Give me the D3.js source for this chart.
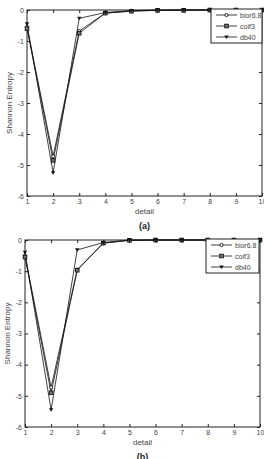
<!DOCTYPE html>
<html>
<head>
<meta charset="utf-8">
<script src="https://cdn.jsdelivr.net/npm/d3@7"></script>
<style>
  body { margin: 0; background: #fff; }
  svg { display: block; font-family: "Liberation Sans", Arial, sans-serif; }
</style>
</head>
<body>
<div id="vis"></div>
<script>
// x values (detail level)
const details = [1, 2, 3, 4, 5, 6, 7, 8, 9, 10];
const yTicks = [0, -1, -2, -3, -4, -5, -6];
const seriesNames = ["bior6.8", "coif3", "db40"];

// panel (a)
const biorA = [-0.55, -4.72, -0.68, -0.1, -0.03, -0.01, 0, 0, 0, 0];
const coifA = [-0.6, -4.85, -0.75, -0.1, -0.04, -0.01, -0.01, 0, 0, 0];
const dbA   = [-0.45, -5.25, -0.27, -0.08, -0.02, 0, 0, 0, 0, 0];

// panel (b)
const biorB = [-0.5, -4.73, -0.95, -0.1, -0.01, 0, 0, 0, 0, 0];
const coifB = [-0.55, -4.9, -0.97, -0.1, -0.01, 0, 0, 0, 0, 0];
const dbB   = [-0.4, -5.45, -0.32, -0.08, 0, 0, 0, 0, 0, 0];

const W = 264, H = 459;
const svg = d3.select("#vis").append("svg")
    .attr("width", W)
    .attr("height", H)
    .attr("viewBox", [0, 0, W, H].join(" "));

const panels = [
    { label: "(a)", left: 27, right: 262, top: 10, bottom: 196, series: [biorA, coifA, dbA],
      legend: { x: 211, y: 9, w: 51, h: 34 } },
    { label: "(b)", left: 25, right: 260, top: 240, bottom: 427, series: [biorB, coifB, dbB],
      legend: { x: 206, y: 239, w: 53, h: 34 } }
];

const textColor = "#444";
const markers = ["circle", "square", "triangle"];

function drawMarker(g, kind, x, y) {
    if (kind === "circle") {
        g.append("circle").attr("cx", x).attr("cy", y).attr("r", 1.6)
            .attr("fill", "#fff").attr("stroke", "#111").attr("stroke-width", 0.9);
    } else if (kind === "square") {
        g.append("rect").attr("x", x - 1.8).attr("y", y - 1.8).attr("width", 3.6).attr("height", 3.6)
            .attr("fill", "#777").attr("stroke", "#111").attr("stroke-width", 0.9);
    } else {
        g.append("path").attr("d", `M${x - 2.2},${y - 1.6}L${x + 2.2},${y - 1.6}L${x},${y + 2}Z`)
            .attr("fill", "#111");
    }
}

panels.forEach(p => {
    const x = d3.scaleLinear().domain([1, 10]).range([p.left, p.right]);
    const y = d3.scaleLinear().domain([-6, 0]).range([p.bottom, p.top]);
    const g = svg.append("g");

    // frame
    g.append("rect")
        .attr("x", p.left).attr("y", p.top)
        .attr("width", p.right - p.left).attr("height", p.bottom - p.top)
        .attr("fill", "none").attr("stroke", "#222").attr("stroke-width", 1);

    // axes with inner ticks
    const xAxis = g.append("g")
        .attr("transform", `translate(0,${p.bottom})`)
        .call(d3.axisBottom(x).tickValues(details).tickSize(-3).tickPadding(3).tickFormat(d3.format("d")));
    const yAxis = g.append("g")
        .attr("transform", `translate(${p.left},0)`)
        .call(d3.axisLeft(y).tickValues(yTicks).tickSize(-3).tickPadding(3).tickFormat(d => d));
    g.append("g")
        .attr("transform", `translate(0,${p.top})`)
        .call(d3.axisTop(x).tickValues(details).tickSize(-3).tickFormat(""));
    g.append("g")
        .attr("transform", `translate(${p.right},0)`)
        .call(d3.axisRight(y).tickValues(yTicks).tickSize(-3).tickFormat(""));
    g.selectAll(".domain").remove();
    g.selectAll(".tick line").attr("stroke", "#222");
    g.selectAll(".tick text").attr("fill", textColor).attr("font-size", 7);

    // axis titles
    g.append("text")
        .attr("x", (p.left + p.right) / 2).attr("y", p.bottom + 18)
        .attr("text-anchor", "middle").attr("font-size", 8).attr("fill", textColor)
        .text("detail");
    g.append("text")
        .attr("transform", `translate(${p.left - 15},${(p.top + p.bottom) / 2}) rotate(-90)`)
        .attr("text-anchor", "middle").attr("font-size", 8).attr("fill", textColor)
        .text("Shannon Entropy");
    g.append("text")
        .attr("x", (p.left + p.right) / 2).attr("y", p.bottom + 33)
        .attr("text-anchor", "middle").attr("font-size", 9).attr("font-weight", "bold").attr("fill", "#222")
        .text(p.label);

    // lines + markers
    const line = d3.line().x((d, i) => x(details[i])).y(d => y(d));
    p.series.forEach((vals, si) => {
        g.append("path").datum(vals)
            .attr("fill", "none").attr("stroke", "#111").attr("stroke-width", 0.8)
            .attr("d", line);
    });
    p.series.forEach((vals, si) => {
        vals.forEach((v, i) => drawMarker(g, markers[si], x(details[i]), y(v)));
    });

    // legend
    const L = p.legend;
    const lg = g.append("g");
    lg.append("rect").attr("x", L.x).attr("y", L.y).attr("width", L.w).attr("height", L.h)
        .attr("fill", "#fff").attr("stroke", "#222").attr("stroke-width", 1);
    seriesNames.forEach((name, i) => {
        const ly = L.y + 6 + i * 11;
        lg.append("line").attr("x1", L.x + 5).attr("x2", L.x + 26).attr("y1", ly).attr("y2", ly)
            .attr("stroke", "#111").attr("stroke-width", 0.8);
        drawMarker(lg, markers[i], L.x + 15.5, ly);
        lg.append("text").attr("x", L.x + 29).attr("y", ly + 2.5)
            .attr("font-size", 7).attr("fill", textColor).text(name);
    });
});
</script>
</body>
</html>
